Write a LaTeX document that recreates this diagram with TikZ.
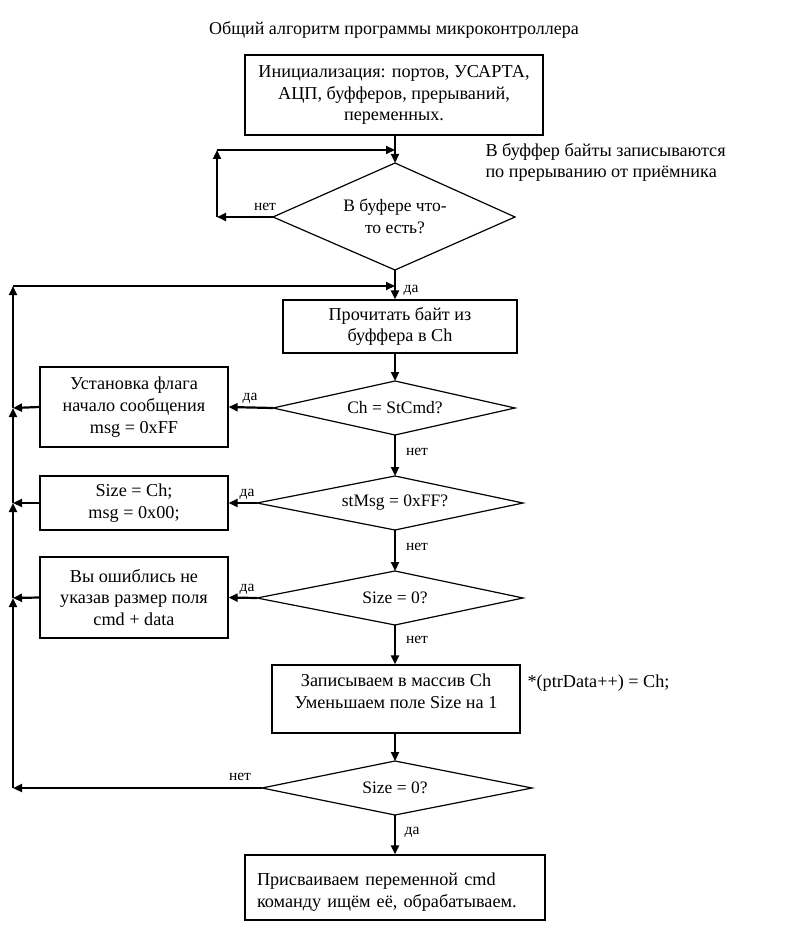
\documentclass[tikz,border=0pt]{standalone}
\usepackage{fontspec}
\setmainfont{Liberation Serif}
\usetikzlibrary{arrows.meta}
\begin{document}
\begin{tikzpicture}[x=1pt,y=-1pt,
  line width=1pt,
  box/.style={draw,line width=1.2pt,align=center,inner sep=0pt,font=\fontsize{18.2}{21.8}\selectfont},
  dia/.style={draw,line width=1.2pt},
  txt/.style={align=center,font=\fontsize{17.5}{21.8}\selectfont,inner sep=0pt},
  lbl/.style={font=\fontsize{15.5}{18}\selectfont,inner sep=0pt},
  arr/.style={line width=2.2pt,-{Triangle[length=9pt,width=8pt]}}]
\useasboundingbox (0,0) rectangle (800,936);
\fill[white] (0,0) rectangle (800,936);
% title
\node[font=\fontsize{18}{20}\selectfont,inner sep=0pt] (title) at (394,30) {Общий алгоритм программы микроконтроллера};
% init box
\node[box,minimum width=298pt,minimum height=80pt] (init) at (394,95) {Инициализация: портов, УСАРТА,\\АЦП, буфферов, прерываний,\\переменных.};
% diamond 1
\coordinate (d1t) at (395,163); \coordinate (d1l) at (273,217);
\coordinate (d1r) at (515,217); \coordinate (d1b) at (395,270);
\draw[dia] (d1t) -- (d1r) -- (d1b) -- (d1l) -- cycle;
\node[txt] (d1) at (395,216) {В буфере что-\\то есть?};
\node[anchor=west,inner sep=0pt] (note1) at (485,163) {\fontsize{18.2}{21}\selectfont\begin{tabular}{@{}l@{}}В буффер байты записываются\\по прерыванию от приёмника\end{tabular}};
% loop of diamond 1
\coordinate (l1a) at (217,217); \coordinate (l1b) at (217,150); \coordinate (l1c) at (395,150);
\draw[arr] (d1l) -- (l1a);
\draw[arr] (l1a) -- (l1b);
\draw[arr] (l1b) -- (l1c);
\draw[arr] (init.south -| d1t) -- (d1t);
\node[lbl] (n1) at (265,207) {нет};
% box 2
\node[box,minimum width=234pt,minimum height=53pt] (read) at (400,326.5) {Прочитать байт из\\буффера в Ch};
\coordinate (j0) at (395,286);
\draw[arr] (d1b) -- (read.north -| d1b);
\node[lbl] (y1) at (411,290) {да};
% diamond 2
\coordinate (d2t) at (395,381); \coordinate (d2l) at (273,408);
\coordinate (d2r) at (515,408); \coordinate (d2b) at (395,435);
\draw[dia] (d2t) -- (d2r) -- (d2b) -- (d2l) -- cycle;
\node[txt] (d2) at (395,408) {Ch = StCmd?};
\draw[arr] (read.south -| d2t) -- (d2t);
\node[box,minimum width=188pt,minimum height=80pt] (b1) at (134,407) {Установка флага\\начало сообщения\\msg = 0xFF};
\draw[arr] (d2l) -- (b1.east);
\node[lbl] (y2) at (250,398) {да};
% diamond 3
\coordinate (d3t) at (395,476); \coordinate (d3l) at (257,503);
\coordinate (d3r) at (523,503); \coordinate (d3b) at (395,530);
\draw[dia] (d3t) -- (d3r) -- (d3b) -- (d3l) -- cycle;
\node[txt] (d3) at (395,503) {stMsg = 0xFF?};
\draw[arr] (d2b) -- (d3t);
\node[lbl] (n2) at (417,452) {нет};
\node[box,minimum width=188pt,minimum height=54pt] (b2) at (134,503) {Size = Ch;\\msg = 0x00;};
\draw[arr] (d3l) -- (b2.east);
\node[lbl] (y3) at (247,494) {да};
% diamond 4
\coordinate (d4t) at (395,571); \coordinate (d4l) at (257,598);
\coordinate (d4r) at (523,598); \coordinate (d4b) at (395,625);
\draw[dia] (d4t) -- (d4r) -- (d4b) -- (d4l) -- cycle;
\node[txt] (d4) at (395,598) {Size = 0?};
\draw[arr] (d3b) -- (d4t);
\node[lbl] (n3) at (417,547) {нет};
\node[box,minimum width=188pt,minimum height=81pt] (b3) at (134,597.5) {Вы ошиблись не\\указав размер поля\\cmd + data};
\draw[arr] (d4l) -- (b3.east);
\node[lbl] (y4) at (247,589) {да};
% box 4
\node[box,minimum width=248pt,minimum height=68pt,text depth=16pt] (wr) at (396,699) {Записываем в массив Ch\\Уменьшаем поле Size на 1};
\draw[arr] (d4b) -- (wr.north -| d4b);
\node[lbl] (n4) at (417,640) {нет};
\node[txt,anchor=west,font=\fontsize{18.2}{21}\selectfont] (note2) at (527,683) {*(ptrData++) = Ch;};
% diamond 5
\coordinate (d5t) at (395,761); \coordinate (d5l) at (262,788);
\coordinate (d5r) at (532,788); \coordinate (d5b) at (395,815);
\draw[dia] (d5t) -- (d5r) -- (d5b) -- (d5l) -- cycle;
\node[txt] (d5) at (395,788) {Size = 0?};
\draw[arr] (wr.south -| d5t) -- (d5t);
\node[lbl] (n5) at (240,777) {нет};
% final box
\node[box,minimum width=300pt,minimum height=65pt,align=left,text width=276pt,text depth=16pt] (fin) at (395,887.5) {Присваиваем переменной cmd\\команду ищём её, обрабатываем.};
\draw[arr] (d5b) -- (fin.north -| d5b);
\node[lbl] (y5) at (412,832) {да};
% main return line
\coordinate (m5) at (13,788); \coordinate (m4) at (13,598);
\coordinate (m3) at (13,503); \coordinate (m2) at (13,408); \coordinate (m1) at (13,286);
\draw[arr] (d5l) -- (m5);
\draw[arr] (m5) -- (m4);
\draw[arr] (m4) -- (m3);
\draw[arr] (m3) -- (m2);
\draw[arr] (m2) -- (m1);
\draw[arr] (m1) -- (j0);
\draw[arr] (b1.west) -- (m2);
\draw[arr] (b2.west) -- (m3);
\draw[arr] (b3.west) -- (m4);
\end{tikzpicture}
\end{document}
